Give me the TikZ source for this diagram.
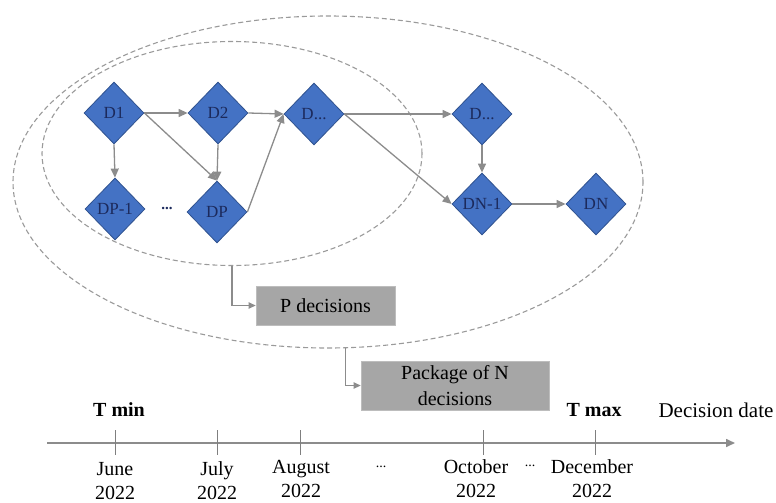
\documentclass[tikz,border=0pt]{standalone}
\usepackage{fontspec}
\setmainfont{LiberationSerif}[Extension=.ttf, UprightFont=*-Regular, BoldFont=*-Bold, ItalicFont=*-Italic, BoldItalicFont=*-BoldItalic]
\usetikzlibrary{arrows.meta,shapes.geometric}
\definecolor{dfill}{HTML}{4472C4}
\definecolor{ddraw}{HTML}{2F528F}
\definecolor{dtext}{HTML}{1C2A5C}
\definecolor{agray}{HTML}{8C8C8C}
\definecolor{egray}{HTML}{9A9A9A}
\definecolor{bfill}{HTML}{A6A6A6}
\definecolor{bdraw}{HTML}{BDBDBD}
\definecolor{tgray}{HTML}{7F7F7F}
\begin{document}
\begin{tikzpicture}[x=1pt,y=-1pt,
  dec/.style={diamond, draw=ddraw, fill=dfill, line width=0.8pt, minimum width=60pt, minimum height=62pt, inner sep=0pt, text=dtext, font=\fontsize{17}{17}\selectfont},
  arr/.style={draw=agray, line width=1.3pt, -{Triangle[length=9pt,width=8pt]}},
  arrs/.style={draw=agray, line width=1.2pt, -{Triangle[length=7pt,width=6.5pt]}},
  grp/.style={ellipse, draw=egray, dash pattern=on 5pt off 3pt, line width=1.1pt, inner sep=0pt},
  gbox/.style={rectangle, fill=bfill, draw=bdraw, line width=0.8pt, inner sep=0pt, font=\fontsize{20}{26}\selectfont, align=center},
  lbl/.style={font=\fontsize{20}{24}\selectfont, align=center, inner sep=0pt},
  tline/.style={draw=agray, line width=1.6pt, -{Triangle[length=9pt,width=8pt]}},
  tick/.style={draw=tgray, line width=0.8pt}]
\useasboundingbox (0,0) rectangle (776,503);
% groups
\node[grp, minimum width=630pt, minimum height=332pt] (outer) at (328,182) {};
\node[grp, minimum width=380pt, minimum height=224pt] (inner) at (232,153.5) {};
% decisions
\node[dec] (D1) at (114,113) {D1};
\node[dec] (D2) at (218,113) {D2};
\node[dec] (Da) at (314,114) {D...};
\node[dec] (DP1) at (115,209) {DP-1};
\node[dec] (DP) at (217,212) {DP};
\node[dec] (Db) at (482,114) {D...};
\node[dec] (DN1) at (482,204) {DN-1};
\node[dec] (DN) at (596,204) {DN};
\node[text=dtext, font=\fontsize{15}{15}\selectfont\bfseries, inner sep=0pt] (dots1) at (167,208) {...};
% arrows
\draw[arr] (D1.east) -- (D2.west);
\draw[arr] (D1.south) -- (DP1.north);
\draw[arr] (D1.east) -- (DP.north);
\draw[arr] (D2.south) -- (DP.north);
\draw[arr] (D2.east) -- (Da.west);
\draw[arr] (DP.east) -- (Da.west);
\draw[arr] (Da.east) -- (Db.west);
\draw[arr] (Da.east) -- (DN1.west);
\draw[arr] (Db.south) -- (DN1.north);
\draw[arr] (DN1.east) -- (DN.west);
% boxes
\node[gbox, minimum width=139pt, minimum height=39pt] (Pbox) at (325.5,305.5) {P decisions};
\node[gbox, minimum width=188pt, minimum height=49pt] (Nbox) at (455,385.5) {Package of N\\decisions};
\draw[arrs] (inner.south) |- (Pbox.west);
\draw[arrs] (outer.-84.5) |- (Nbox.west);
% timeline
\coordinate (ts) at (47,443);
\coordinate (te) at (735,443);
\draw[tline] (ts) -- (te);
\foreach \n/\x in {k1/115,k2/217,k3/300,k4/483,k5/595}{
  \coordinate (\n a) at (\x,430);
  \coordinate (\n b) at (\x,455);
  \draw[tick] (\n a) -- (\n b);
}
\node[lbl, font=\fontsize{20}{24}\selectfont\bfseries] (tmin) at (119,410) {T min};
\node[lbl, font=\fontsize{20}{24}\selectfont\bfseries] (tmax) at (594,410) {T max};
\node[lbl, font=\fontsize{21}{24}\selectfont] (ddate) at (716,410) {Decision date};
\node[lbl] (m1) at (115,481) {June\\2022};
\node[lbl] (m2) at (217,481) {July\\2022};
\node[lbl] (m3) at (301,479) {August\\2022};
\node[lbl, font=\fontsize{14}{14}\selectfont] (e1) at (381,467) {...};
\node[lbl] (m4) at (476,479) {October\\2022};
\node[lbl, font=\fontsize{14}{14}\selectfont] (e2) at (530,466) {...};
\node[lbl] (m5) at (592,479) {December\\2022};
\end{tikzpicture}
\end{document}
